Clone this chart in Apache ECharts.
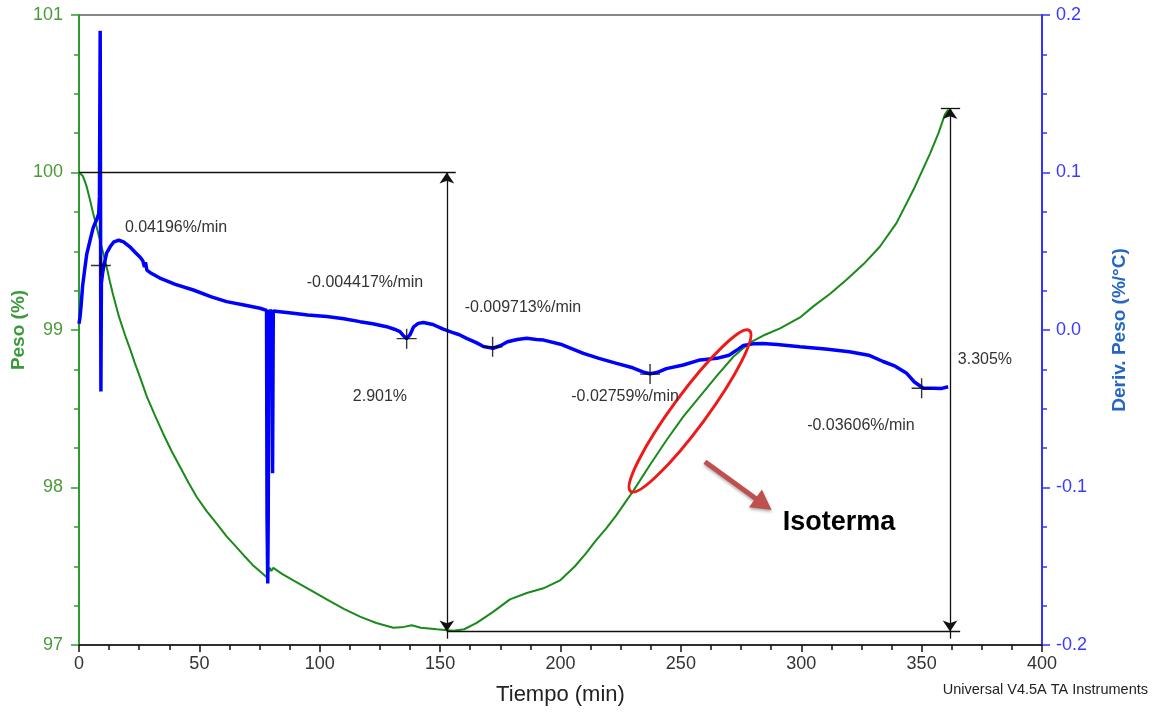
<!DOCTYPE html>
<html><head><meta charset="utf-8">
<script src="https://cdn.jsdelivr.net/npm/echarts@6/dist/echarts.min.js"></script>
<style>html,body{margin:0;padding:0;background:#fff}#c{width:1156px;height:714px}</style>
</head><body><div id="c"></div>
<script>
// ---- Data ----
const xTicks = [0, 50, 100, 150, 200, 250, 300, 350, 400];
const leftTicks = [97, 98, 99, 100, 101];
const rightTicks = [-0.2, -0.1, 0.0, 0.1, 0.2];

// Weight (%) vs time (min)
const weightPoints = [
 [0,100],[0.7,99.995],[1.5,99.98],[2.3,99.95],[3.2,99.91],[4.5,99.83],[5.9,99.74],[7.3,99.655],
 [8.7,99.57],[10.1,99.485],[11.5,99.40],[12.8,99.31],[14.2,99.22],[16.7,99.08],[19.3,98.96],
 [21.2,98.88],[23.2,98.79],[25.6,98.69],[28.1,98.58],[31.5,98.46],[35,98.34],[38.5,98.23],[42,98.13],
 [45.5,98.03],[48.9,97.94],[53,97.85],[57.2,97.77],[61.3,97.69],[65.5,97.62],[69,97.56],[72,97.51],
 [75,97.47],[78,97.43],[78.5,97.42],[79.2,97.49],[79.9,97.47],[80.7,97.49],[84.5,97.45],[89,97.41],
 [96,97.35],[102.9,97.29],[110,97.23],[116.7,97.18],[123.5,97.14],[130.6,97.11],[135,97.115],
 [138.2,97.125],[142,97.11],[148.6,97.10],[155.5,97.09],[160,97.10],[165.2,97.14],[172,97.21],
 [179,97.29],[186,97.33],[192.9,97.36],[199.8,97.41],[206,97.50],[210.5,97.58],[214.5,97.66],
 [219,97.74],[223,97.82],[230.3,97.98],[237,98.14],[244,98.30],[251,98.45],[258,98.58],[265,98.71],
 [271.8,98.83],[278.7,98.92],[285,98.97],[291.2,99.01],[299.5,99.08],[305,99.15],[312,99.23],
 [318.9,99.32],[326,99.42],[332.7,99.53],[339.6,99.68],[346.6,99.89],[353.5,100.12],[357,100.25],
 [359.7,100.37],[361.1,100.40]
];

// Derivative weight (%/°C) vs time (min)
const derivPoints = [
 [0,0.004],[0.4,0.008],[0.9,0.016],[1.5,0.028],[2.5,0.040],[3.2,0.048],[4.6,0.057],[5.9,0.065],
 [7.3,0.070],[8.2,0.074],[8.5,0.085],[8.8,0.19],[9.1,-0.039],[9.3,0.030],[9.8,0.036],[10.5,0.042],
 [11.5,0.049],[13,0.053],[14.5,0.056],[16.5,0.057],[18.5,0.056],[21,0.053],[23.5,0.049],[25.5,0.046],
 [26.5,0.044],[27.2,0.040],[27.6,0.043],[28.2,0.038],[30,0.036],[33.6,0.033],[40,0.029],[47.5,0.0254],
 [55,0.021],[61.3,0.018],[68,0.016],[75.2,0.0138],[77.9,0.0125],[78.1,-0.118],[78.4,-0.161],
 [78.6,-0.118],[78.9,0.012],[80.1,0.012],[80.4,-0.091],[80.7,0.012],[89,0.0106],[95,0.0095],
 [102.9,0.0085],[110,0.0072],[116.7,0.0053],[122,0.004],[127.8,0.0021],[131,0.0005],[133.3,-0.001],
 [135,-0.004],[136.1,-0.0055],[137.5,-0.003],[139,0.002],[140.9,0.0042],[143,0.0048],[147,0.0035],
 [151.3,0.0005],[155,-0.0015],[158,-0.003],[161,-0.0053],[165,-0.008],[168,-0.0105],[172,-0.0116],
 [175,-0.010],[178,-0.0075],[182,-0.006],[186,-0.0053],[190,-0.006],[193,-0.0064],[200,-0.009],
 [209.5,-0.0148],[216,-0.018],[223.3,-0.0212],[230,-0.024],[235,-0.027],[237.2,-0.0278],[240,-0.027],
 [244,-0.0245],[251,-0.0222],[258,-0.019],[264.9,-0.018],[270,-0.016],[274,-0.012],[276,-0.0098],
 [280,-0.0088],[284,-0.0085],[290,-0.0092],[299.5,-0.0106],[310,-0.012],[320,-0.0138],[328,-0.016],
 [334,-0.020],[339,-0.023],[343.8,-0.0275],[347,-0.033],[350.7,-0.037],[355,-0.037],[358,-0.0372],
 [361,-0.036]
];

// Analysis cross markers on derivative curve
const crossMarks = [[9.1,0.041],[136.1,-0.0055],[171.8,-0.0106],[237.2,-0.028],[350,-0.037]];

// Step measurement (weight axis)
const stepStart = 152.8, stepEnd = 361.8;
const stepTop1 = 100.0, stepTop2 = 100.41, stepBottom = 97.085;

// Annotation texts anchored in (time, weight) coordinates
const slopeLabels = [
 ['0.04196%/min', 40.3, 99.648],
 ['-0.004417%/min', 118.8, 99.298],
 ['-0.009713%/min', 184.4, 99.14],
 ['2.901%', 125.0, 98.575],
 ['-0.02759%/min', 226.8, 98.575],
 ['-0.03606%/min', 324.8, 98.39],
 ['3.305%', 376.3, 98.81]
];
const isoLabel = ['Isoterma', 315.7, 97.78];
const ellipseCenter = [253.8, 98.486];
const arrowFrom = [260.0, 98.164], arrowTo = [287.7, 97.857];

// ---- Chart ----
const chart = echarts.init(document.getElementById('c'));
const GREEN = '#1a8a1a', AXGREEN = '#2f9a2f', BLUE = '#0000ff';
const option = {
  animation: false,
  grid: {left: 79, right: 114, top: 15, bottom: 69, show: true, borderColor: '#111', borderWidth: 1.2,
         containLabel: false, outerBoundsMode: 'none'},
  xAxis: {
    type: 'value', min: xTicks[0], max: xTicks[xTicks.length - 1], interval: 50,
    axisLine: {onZero: false, lineStyle: {color: '#111', width: 1.5}},
    axisTick: {length: 7, lineStyle: {color: '#111', width: 1.5}},
    minorTick: {show: true, splitNumber: 4, length: 5, lineStyle: {color: '#111', width: 1.5}},
    splitLine: {show: false},
    axisLabel: {color: '#333', fontSize: 18, margin: 10, fontFamily: 'Arial'},
    name: 'Tiempo (min)', nameLocation: 'middle', nameGap: 39, nameMoveOverlap: false,
    nameTextStyle: {fontSize: 22, color: '#222', fontFamily: 'Arial'}
  },
  yAxis: [{
    type: 'value', min: leftTicks[0], max: leftTicks[leftTicks.length - 1], interval: 1, position: 'left',
    axisLine: {show: true, onZero: false, lineStyle: {color: AXGREEN, width: 2}},
    axisTick: {show: true, length: 8, lineStyle: {color: AXGREEN, width: 1.5}},
    minorTick: {show: true, splitNumber: 4, length: 5, lineStyle: {color: AXGREEN, width: 1.5}},
    splitLine: {show: false},
    axisLabel: {color: '#4a9a38', fontSize: 18, margin: 16, fontFamily: 'Arial'},
    name: 'Peso (%)', nameLocation: 'middle', nameGap: 51, nameRotate: 90, nameMoveOverlap: false,
    nameTextStyle: {fontSize: 19, fontWeight: 'bold', color: '#3a9a3a', fontFamily: 'Arial'}
  }, {
    type: 'value', min: rightTicks[0], max: rightTicks[rightTicks.length - 1], interval: 0.1, position: 'right',
    axisLine: {show: true, onZero: false, lineStyle: {color: '#3333ff', width: 2}},
    axisTick: {show: true, length: 8, lineStyle: {color: '#3333ff', width: 1.5}},
    minorTick: {show: true, splitNumber: 4, length: 5, lineStyle: {color: '#3333ff', width: 1.5}},
    splitLine: {show: false},
    axisLabel: {color: '#3a3aff', fontSize: 18, margin: 14, fontFamily: 'Arial',
      formatter: v => v.toFixed(1)},
    name: 'Deriv. Peso (%/°C)', nameLocation: 'middle', nameGap: 68, nameRotate: 90,
    nameTextStyle: {fontSize: 19, fontWeight: 'bold', color: '#2566c4', fontFamily: 'Arial'}
  }],
  series: [
    {type: 'line', name: 'Peso', yAxisIndex: 0, data: weightPoints, showSymbol: false, symbol: 'none',
     lineStyle: {color: GREEN, width: 2}, z: 2},
    {type: 'line', name: 'Deriv', yAxisIndex: 1, data: derivPoints, showSymbol: false, symbol: 'none',
     lineStyle: {color: BLUE, width: 3.5}, z: 3},
    {type: 'scatter', yAxisIndex: 1, data: crossMarks, z: 5, silent: true,
     symbol: 'path://M0,9.3H20V10.7H0Z M9.3,0H10.7V20H9.3Z', symbolSize: [20, 20],
     itemStyle: {color: '#000'}},
    {type: 'line', yAxisIndex: 0, data: [], z: 4,
     markLine: {
       silent: true, animation: false, symbol: ['none', 'none'], symbolSize: 11,
       label: {show: false},
       lineStyle: {color: '#111', width: 1.3, type: 'solid'},
       data: [
         [{coord: [0, stepTop1]}, {coord: [156.5, stepTop1]}],
         [{coord: [stepStart, stepTop1], symbol: 'arrow'}, {coord: [stepStart, stepBottom], symbol: 'arrow'}],
         [{coord: [stepStart, stepBottom]}, {coord: [stepStart, 97.04]}],
         [{coord: [stepStart, stepBottom]}, {coord: [366, stepBottom]}],
         [{coord: [358, stepTop2]}, {coord: [366, stepTop2]}],
         [{coord: [stepEnd, stepTop2], symbol: 'arrow'}, {coord: [stepEnd, stepBottom], symbol: 'arrow'}],
         [{coord: [stepEnd, stepBottom]}, {coord: [stepEnd, 97.04]}]
       ]
     }}
  ]
};
chart.setOption(option);

function px(p) { return chart.convertToPixel({xAxisIndex: 0, yAxisIndex: 0}, p); }
const graphics = [];
slopeLabels.forEach(l => {
  const p = px([l[1], l[2]]);
  graphics.push({type: 'text', x: p[0], y: p[1], silent: true, z: 10,
    style: {text: l[0], fill: '#333', font: '16px Arial', align: 'center', verticalAlign: 'middle'}});
});
const ip = px([isoLabel[1], isoLabel[2]]);
graphics.push({type: 'text', x: ip[0], y: ip[1], z: 10, silent: true,
  style: {text: isoLabel[0], fill: '#000', font: 'bold 27px Arial', align: 'center', verticalAlign: 'middle',
    shadowBlur: 5, shadowColor: 'rgba(0,0,0,0.55)', shadowOffsetX: 1, shadowOffsetY: 2}});
const ec = px(ellipseCenter);
graphics.push({type: 'ellipse', x: ec[0], y: ec[1], rotation: 53.6 * Math.PI / 180, z: 9, silent: true,
  shape: {cx: 0, cy: 0, rx: 100, ry: 17}, style: {fill: 'none', stroke: '#ee1a1a', lineWidth: 3}});
// arrow
const a0 = px(arrowFrom), a1 = px(arrowTo);
const dx = a1[0] - a0[0], dy = a1[1] - a0[1], len = Math.hypot(dx, dy);
const ux = dx / len, uy = dy / len, nx = -uy, ny = ux;
const hl = 20, hw = 11;
const base = [a1[0] - ux * hl, a1[1] - uy * hl];
graphics.push({type: 'line', z: 9, silent: true, shape: {x1: a0[0], y1: a0[1], x2: base[0] + ux * 2, y2: base[1] + uy * 2},
  style: {stroke: '#c0504d', lineWidth: 5, shadowBlur: 3, shadowColor: 'rgba(0,0,0,0.3)', shadowOffsetY: 2}});
graphics.push({type: 'polygon', z: 9, silent: true,
  shape: {points: [[a1[0], a1[1]], [base[0] + nx * hw, base[1] + ny * hw], [base[0] - nx * hw, base[1] - ny * hw]]},
  style: {fill: '#c0504d', shadowBlur: 3, shadowColor: 'rgba(0,0,0,0.3)', shadowOffsetY: 2}});
graphics.push({type: 'text', right: 8, top: 682, silent: true,
  style: {text: 'Universal V4.5A TA Instruments', fill: '#222', font: '14.5px Arial'}});
chart.setOption({graphic: graphics});
</script>
</body></html>
